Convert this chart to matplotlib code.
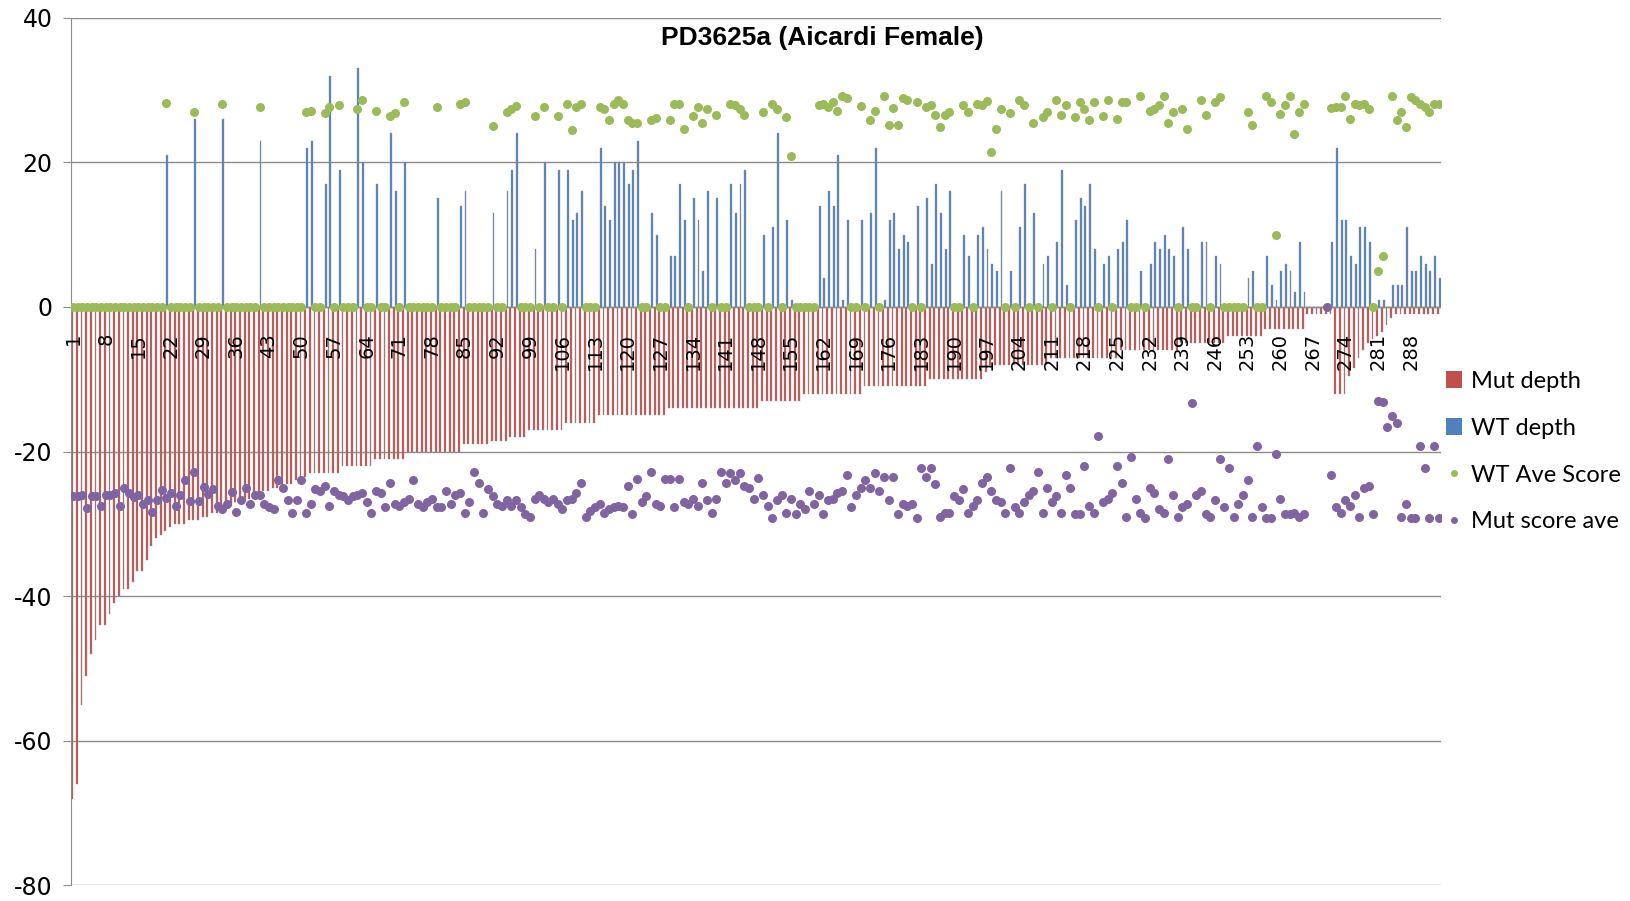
"""Mutant / wild-type read depth and scores per position for PD3625a."""
import numpy as np
import matplotlib
matplotlib.use("Agg")
import matplotlib.pyplot as plt
from matplotlib.patches import Patch
from matplotlib.lines import Line2D

plt.rcParams["axes.unicode_minus"] = False
nan = float("nan")

title = "PD3625a (Aicardi Female)"
series_names = ["Mut depth", "WT depth", "WT Ave Score", "Mut score ave"]

# one value per position 1..294
mut_depth = [
    -68, -66, -55, -51, -48, -46, -44, -44, -42.5, -41,
    -40, -39, -39, -38, -36.5, -36.5, -35, -33, -32, -31.5,
    -31, -30.5, -30, -30, -30, -29.5, -29.5, -29.5, -29, -29,
    -28.5, -28.5, -28, -28, -27.5, -27, -27, -26.5, -26.5, -26,
    -26, -25.5, -25.5, -25, -25, -25, -24.5, -24.5, -24, -24,
    -23.5, -23, -23, -23, -23, -23, -23, -23, -22, -22,
    -22, -22, -22, -22, -22, -21, -21, -21, -21, -21,
    -21, -21, -20, -20, -20, -20, -20, -20, -20, -20,
    -20, -20, -20, -20, -19, -19, -19, -19, -19, -19,
    -18.5, -18.5, -18.5, -18.5, -18, -18, -18, -18, -17, -17,
    -17, -17, -17, -17, -17, -17, -16, -16, -16, -16,
    -16, -16, -16, -15, -15, -15, -15, -15, -15, -15,
    -15, -15, -15, -15, -15, -15, -15, -15, -14, -14,
    -14, -14, -14, -14, -14, -14, -14, -14, -14, -14,
    -14, -14, -14, -14, -14, -14, -14, -14, -13, -13,
    -13, -13, -13, -13, -13, -13, -13, -12, -12, -12,
    -12, -12, -12, -12, -12, -12, -12, -12, -12, -12,
    -11, -11, -11, -11, -11, -11, -11, -11, -11, -11,
    -11, -11, -11, -11, -10, -10, -10, -10, -10, -10,
    -10, -10, -10, -10, -10, -10, -9, -8, -8, -8,
    -8, -8, -8, -8, -8, -8, -8, -8, -8, -8,
    -7, -7, -7, -7, -7, -7, -7, -7, -7, -7,
    -7, -7, -7, -7, -7, -6, -6, -6, -6, -6,
    -6, -6, -6, -6, -6, -6, -6, -6, -5, -5,
    -5, -5, -5, -5, -5, -5, -5, -5, -4, -4,
    -4, -4, -4, -4, -4, -4, -3, -3, -3, -3,
    -3, -3, -3, -3, -3, -1, -1, -1, -1, -1,
    -1, -12, -12, -12, -9.5, -8.5, -7, -6, -5, -4.5,
    -4, -3.5, -2.5, -1.5, -1, -1, -1, -1, -1, -1,
    -1, -1, -1, -1,
]

wt_depth = [
    0, 0, 0, 0, 0, 0, 0, 0, 0, 0,
    0, 0, 0, 0, 0, 0, 0, 0, 0, 0,
    21, 0, 0, 0, 0, 0, 26, 0, 0, 0,
    0, 0, 26, 0, 0, 0, 0, 0, 0, 0,
    23, 0, 0, 0, 0, 0, 0, 0, 0, 0,
    22, 23, 0, 0, 17, 32, 0, 19, 0, 0,
    0, 33, 20, 0, 0, 17, 0, 0, 24, 16,
    0, 20, 0, 0, 0, 0, 0, 0, 15, 0,
    0, 0, 0, 14, 16, 0, 0, 0, 0, 0,
    13, 0, 0, 16, 19, 24, 0, 0, 0, 8,
    0, 20, 0, 0, 19, 0, 19, 12, 13, 16,
    0, 0, 0, 22, 14, 12, 20, 20, 20, 17,
    19, 23, 0, 0, 13, 10, 0, 0, 7, 7,
    17, 12, 0, 15, 12, 5, 16, 0, 15, 0,
    0, 17, 13, 17, 19, 0, 0, 0, 10, 0,
    11, 24, 0, 12, 1, 0, 0, 0, 0, 0,
    14, 4, 16, 14, 21, 1, 12, 0, 0, 12,
    0, 13, 22, 0, 1, 12, 13, 8, 10, 9,
    0, 14, 0, 15, 6, 17, 13, 8, 16, 0,
    0, 10, 7, 0, 10, 11, 8, 6, 5, 16,
    0, 5, 0, 11, 17, 0, 13, 0, 6, 7,
    0, 9, 19, 3, 0, 12, 15, 14, 17, 8,
    0, 6, 7, 0, 8, 9, 12, 0, 0, 5,
    0, 6, 9, 8, 10, 8, 7, 0, 11, 8,
    0, 0, 9, 9, 0, 7, 6, 0, 0, 0,
    0, 0, 4, 5, 0, 0, 7, 3, 1, 5,
    6, 5, 2, 9, 2, 0, 0, 0, 0, 0,
    9, 22, 12, 12, 7, 6, 11, 11, 9, 0,
    1, 1, 0, 3, 3, 3, 11, 5, 5, 7,
    6, 5, 7, 4,
]

wt_score = [
    0, 0, 0, 0, 0, 0, 0, 0, 0, 0,
    0, 0, 0, 0, 0, 0, 0, 0, 0, 0,
    28.2, 0, 0, 0, 0, 0, 27, 0, 0, 0,
    0, 0, 28, 0, 0, 0, 0, 0, 0, 0,
    27.6, 0, 0, 0, 0, 0, 0, 0, 0, 0,
    27, 27.1, 0, 0, 26.8, 27.6, 0, 27.9, 0, 0,
    0, 27.4, 28.6, 0, 0, 27.1, 0, 0, 26.4, 26.8,
    0, 28.4, 0, 0, 0, 0, 0, 0, 27.6, 0,
    0, 0, 0, 28, 28.3, 0, 0, 0, 0, 0,
    25, 0, 0, 27, 27.4, 27.8, 0, 0, 0, 26.4,
    0, 27.6, 0, 0, 26.4, 0, 28.1, 24.4, 27.6, 28,
    0, 0, 0, 27.6, 27.4, 25.8, 28.1, 28.6, 28.1, 25.8,
    25.4, 25.5, 0, 0, 25.8, 26.1, 0, 0, 25.9, 28.1,
    28.1, 24.6, 0, 26.4, 27.6, 25.4, 27.4, 0, 26.6, 0,
    0, 28.1, 27.9, 27.4, 26.5, 0, 0, 0, 26.9, 0,
    28, 27.4, 0, 26.3, 20.9, 0, 0, 0, 0, 0,
    27.9, 28.1, 27.6, 28.4, 27.1, 29.1, 28.9, 0, 0, 27.8,
    0, 25.9, 27.1, 0, 29.1, 25.1, 27.5, 25.1, 28.9, 28.6,
    0, 28.4, 0, 27.6, 27.9, 26.6, 24.9, 26.6, 26.9, 0,
    0, 27.9, 26.9, 0, 28.1, 27.9, 28.5, 21.4, 24.6, 27.4,
    0, 26.8, 0, 28.6, 27.9, 0, 25.5, 0, 26.3, 26.9,
    0, 28.6, 26.6, 27.9, 0, 26.3, 28.4, 27.4, 25.9, 28.3,
    0, 26.4, 28.6, 0, 26, 28.4, 28.4, 0, 0, 29.1,
    0, 27.1, 27.4, 27.9, 29.1, 25.4, 27, 0, 27.4, 24.6,
    0, 0, 28.6, 26.5, 0, 28.4, 29, 0, 0, 0,
    0, 0, 27, 25.1, 0, 0, 29.1, 28.4, 9.9, 26.7,
    27.9, 29.1, 23.9, 26.9, 28.1, nan, nan, nan, nan, nan,
    27.5, 27.6, 27.6, 29.1, 26, 28.1, 27.9, 28, 27.3, 0,
    5, 7, nan, 29.1, 25.8, 27, 24.9, 29, 28.6, 28.1,
    27.6, 26.9, 28.1, 28.1,
]

mut_score = [
    -26.2, -26.2, -26, -27.8, -26.2, -26.1, -27.6, -26, -26, -25.8,
    -27.5, -25, -25.8, -26.3, -26, -27.3, -26.7, -28.3, -26.7, -25.3,
    -26.4, -25.8, -27.5, -26, -24, -26.9, -22.8, -26.9, -24.9, -25.9,
    -25.2, -27.5, -28, -27.3, -25.6, -28.3, -26.7, -25, -27.2, -26,
    -26, -27.2, -27.7, -28, -24, -25, -26.7, -28.5, -26.7, -24,
    -28.5, -27.2, -25.2, -25.5, -24.8, -27.5, -25.5, -26, -26.2, -26.7,
    -26.2, -26, -25.7, -27, -28.5, -25.5, -25.7, -27.7, -24.3, -27.2,
    -27.5, -27, -26.5, -24, -27.2, -27.7, -27, -26.5, -27.7, -27.7,
    -25.5, -27.2, -26, -25.7, -28.5, -27, -22.8, -24.3, -28.5, -25.2,
    -26.2, -27.2, -27.5, -26.7, -27.5, -26.7, -27.7, -28.7, -29, -26.5,
    -26, -26.5, -27, -26.5, -27.2, -28, -26.7, -26.5, -25.7, -24.3,
    -29, -28.2, -27.7, -27.2, -28.5, -28, -27.7, -27.5, -27.7, -24.8,
    -28.7, -23.8, -27, -26.2, -22.8, -27.2, -27.5, -23.8, -23.8, -27.7,
    -23.8, -27, -27.2, -26.5, -27.5, -24.3, -26.7, -28.5, -26.5, -22.8,
    -24.3, -23, -24, -23, -24.8, -25, -26.5, -23.7, -26, -27.5,
    -29.2, -26.7, -26, -28.5, -26.5, -28.7, -27.2, -28, -25.5, -27.2,
    -26, -28.7, -26.7, -26.5, -25.7, -25.5, -23.3, -27.7, -26, -25,
    -24, -25, -23, -25.5, -23.5, -26.7, -23.5, -28.7, -27.2, -27.5,
    -27.2, -29.2, -22.3, -23.5, -22.3, -24.5, -29, -28.5, -28.5, -26.2,
    -26.7, -25.2, -28.5, -27.5, -26.7, -24.3, -23.5, -25.5, -26.7, -27,
    -28.5, -22.3, -27.7, -28.5, -27, -26, -25.5, -22.8, -28.5, -25,
    -27, -26.2, -28.5, -23.3, -25, -28.7, -28.7, -22, -27.5, -28.5,
    -17.9, -27, -26.5, -25.7, -22, -24.3, -29, -20.8, -26.5, -28.5,
    -29.2, -25, -25.7, -28, -28.5, -21, -26, -29, -27.7, -27.2,
    -13.3, -26, -25.5, -28.7, -29, -26.7, -21, -27.7, -22.3, -29,
    -27.2, -26, -24, -29, -19.2, -27.7, -29.2, -29.2, -20.3, -26.5,
    -28.7, -28.7, -28.5, -29, -28.7, nan, nan, nan, nan, 0,
    -23.2, -27.7, -28.5, -26.7, -27.5, -26, -29, -25, -24.8, -28.7,
    -13, -13.1, -16.6, -15.1, -16.1, -29, -27.2, -29.2, -29.2, -19.2,
    -22.3, -29.2, -19.2, -29.2,
]

RED, BLUE, GREEN, PURPLE = "#c0504d", "#4f81bd", "#9bbb59", "#8064a2"
GRID = "#8c8c8c"

x = np.arange(1, len(mut_depth) + 1)

fig = plt.figure(figsize=(16.31, 9.01), dpi=100)
ax = fig.add_axes([0.0434, 0.0173, 0.8401, 0.9631])

bw = 0.4
ax.bar(x - bw / 2, mut_depth, width=bw, color=RED, edgecolor="#9a9a9a", linewidth=0.3, zorder=2)
ax.bar(x + bw / 2, wt_depth, width=bw, color=BLUE, edgecolor="#9a9a9a", linewidth=0.3, zorder=2)
ax.axhline(0, color=GRID, lw=1.0, zorder=2.5)
ax.plot(x, wt_score, "o", color=GREEN, ms=6.5, mew=0, zorder=4)
ax.plot(x, mut_score, "o", color=PURPLE, ms=6.5, mew=0, zorder=4)

ax.set_xlim(0.5, len(x) + 0.5)
ax.set_ylim(-80, 40)
ax.set_yticks(range(-80, 41, 20))
ax.set_xticks([])
ax.yaxis.grid(True, color=GRID, lw=1.0)
ax.set_axisbelow(True)
for side in ("top", "right", "bottom"):
    ax.spines[side].set_visible(False)
ax.spines["left"].set_color(GRID)
ax.tick_params(axis="y", direction="out", length=6, color=GRID, labelsize=17, pad=7)

# category labels every 7th position, sitting just under the zero line
for i in range(1, len(x) + 1, 7):
    ax.text(i, -3.6, str(i), rotation=90, ha="center", va="top", fontsize=14, zorder=6)

fig.text(0.504, 0.958, title, ha="center", va="center", fontsize=19,
         fontweight="bold", family="Liberation Sans")

handles = [
    Patch(facecolor=RED, edgecolor="none"),
    Patch(facecolor=BLUE, edgecolor="none"),
    Line2D([], [], marker="o", ls="", color=GREEN, ms=5, mew=0),
    Line2D([], [], marker="o", ls="", color=PURPLE, ms=5, mew=0),
]
ax.legend(handles, series_names, loc="center left", bbox_to_anchor=(0.988, 0.5),
          frameon=False, handlelength=0.7, handleheight=0.7, handletextpad=0.35,
          labelspacing=1.1, prop={"family": "Lato", "size": 17})

fig.savefig("out.png", dpi=100)
print("wrote out.png")
